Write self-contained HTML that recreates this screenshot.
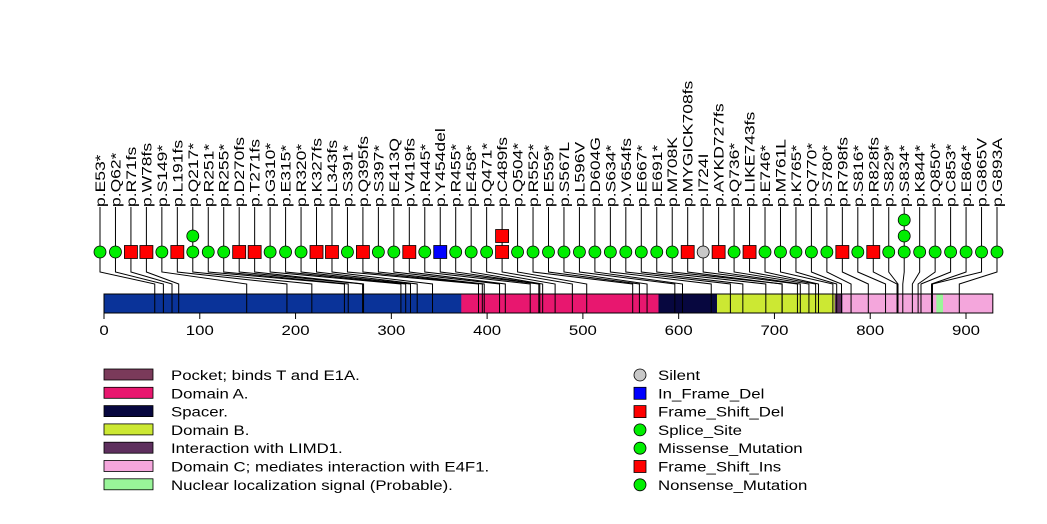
<!DOCTYPE html>
<html><head><meta charset="utf-8"><style>
body{margin:0;background:#fff;}
svg{display:block;font-family:"Liberation Sans",sans-serif;}
</style></head><body>
<svg id="chart" width="1047" height="524"></svg>
<script>
const labels=["p.E53*","p.Q62*","p.R71fs","p.W78fs","p.S149*","p.L191fs","p.Q217*","p.R251*","p.R255*","p.D270fs","p.T271fs","p.G310*","p.E315*","p.R320*","p.K327fs","p.L343fs","p.S391*","p.Q395fs","p.S397*","p.E413Q","p.V419fs","p.R445*","p.Y454del","p.R455*","p.E458*","p.Q471*","p.C489fs","p.Q504*","p.R552*","p.E559*","p.S567L","p.L596V","p.D604G","p.S634*","p.V654fs","p.E667*","p.E691*","p.M708K","p.MYGICK708fs","p.I724I","p.AYKD727fs","p.Q736*","p.LIKE743fs","p.E746*","p.M761L","p.K765*","p.Q770*","p.S780*","p.R798fs","p.S816*","p.R828fs","p.S829*","p.S834*","p.K844*","p.Q850*","p.C853*","p.E864*","p.G865V","p.G893A"];
const positions=[53,62,71,78,149,191,217,251,255,270,271,310,315,320,327,343,391,395,397,413,419,445,454,455,458,471,489,504,552,559,567,596,604,634,654,667,691,708,708,724,727,736,743,746,761,765,770,780,798,816,828,829,834,844,850,853,864,865,893];
const types=["g","g","r","r","g","r","g","g","g","r","r","g","g","g","r","r","g","r","g","g","r","g","b","g","g","g","r","g","g","g","g","g","g","g","g","g","g","g","r","s","r","g","r","g","g","g","g","g","r","g","r","g","g","g","g","g","g","g","g"];
const counts=[1,1,1,1,1,1,2,1,1,1,1,1,1,1,1,1,1,1,1,1,1,1,1,1,1,1,2,1,1,1,1,1,1,1,1,1,1,1,1,1,1,1,1,1,1,1,1,1,1,1,1,1,3,1,1,1,1,1,1];
const domainNames=["Pocket; binds T and E1A.","Domain A.","Spacer.","Domain B.","Interaction with LIMD1.","Domain C; mediates interaction with E4F1.","Nuclear localization signal (Probable)."];
const domainStart=[null,373,579,640,763,771,869];
const domainEnd=[null,579,640,763,771,928,876];
const domainColors=["#7a3a5a","#e8176f","#07073f","#cce833","#5e2f5e","#f4a6dc","#99f599"];
const ticks=[0,100,200,300,400,500,600,700,800,900];
const protLen=928;
const legendTypes=["Silent","In_Frame_Del","Frame_Shift_Del","Splice_Site","Missense_Mutation","Frame_Shift_Ins","Nonsense_Mutation"];
const legendColors=["#c8c8c8","#0000ff","#ff0000","#00ee00","#00ee00","#ff0000","#00ee00"];
const legendShapes=["c","s","s","c","c","s","c"];

const NS="http://www.w3.org/2000/svg";
const svg=document.getElementById('chart');
function mk(t,a,p){const e=document.createElementNS(NS,t);for(const k in a)e.setAttribute(k,a[k]);(p||svg).appendChild(e);return e;}
const X=v=>104+v*(862/900);
const colX=i=>100+i*(897/(labels.length-1));
const col={g:"#00ee00",r:"#ff0000",b:"#0000ff",s:"#c8c8c8"};
const bar=mk('rect',{x:X(0),y:294,width:X(protLen)-X(0),height:19,fill:"#0a3399",stroke:"none"});


for(let d=1;d<domainStart.length;d++){
  const r=mk('rect',{x:X(domainStart[d]),y:294,width:X(domainEnd[d])-X(domainStart[d]),height:19,fill:domainColors[d]});
  
  
}
labels.forEach((l,i)=>{
  const cx=colX(i),px=X(positions[i]);
  mk('polyline',{points:`${cx},207 ${cx},272 ${px},284 ${px},313`,fill:"none",stroke:"#000","stroke-width":1});
});
mk('rect',{x:X(0),y:294,width:X(protLen)-X(0),height:19,fill:"none",stroke:"#000","stroke-width":1});
labels.forEach((l,i)=>{
  const cx=colX(i);
  const t=mk('text',{x:0,y:0,transform:`translate(${cx+5},207) rotate(-90) scale(1.25,1)`,"font-size":"14",fill:"#000"});
  t.textContent=l;
  
  
  for(let k=0;k<counts[i];k++){
    const y=252-k*16;let m;
    if(types[i]==='g'||types[i]==='s'){m=mk('circle',{cx:cx,cy:y,r:6,fill:col[types[i]],stroke:"#000","stroke-width":0.8});}
    else{m=mk('rect',{x:cx-6.5,y:y-6.5,width:13,height:13,fill:col[types[i]],stroke:"#000","stroke-width":0.8});}
    
    
  }
});
mk('line',{x1:X(0),y1:313,x2:X(900),y2:313,stroke:"#000"});
ticks.forEach(v=>{
  mk('line',{x1:X(v),y1:313,x2:X(v),y2:319,stroke:"#000"});
  const t=mk('text',{x:0,y:0,transform:`translate(${X(v)},335) scale(1.2,1)`,"text-anchor":"middle","font-size":"14",fill:"#000"});
  t.textContent=v;
  
  
});
domainNames.forEach((n,i)=>{
  const y=369+i*18.3;
  const r=mk('rect',{x:104,y:y,width:49,height:11,fill:domainColors[i],stroke:"#000","stroke-width":0.8});
  
  
  const t=mk('text',{x:0,y:0,transform:`translate(171,${y+11}) scale(1.2,1)`,"font-size":"14",fill:"#000"});
  t.textContent=n;
  
  
});
legendTypes.forEach((n,i)=>{
  const y=375+i*18.3;let m;
  if(legendShapes[i]==='c')m=mk('circle',{cx:640,cy:y,r:6,fill:legendColors[i],stroke:"#000","stroke-width":0.8});
  else m=mk('rect',{x:634,y:y-6,width:12,height:12,fill:legendColors[i],stroke:"#000","stroke-width":0.8});
  
  
  const t=mk('text',{x:0,y:0,transform:`translate(658,${y+5}) scale(1.2,1)`,"font-size":"14",fill:"#000"});
  t.textContent=n;
  
  
});
</script>
</body></html>
